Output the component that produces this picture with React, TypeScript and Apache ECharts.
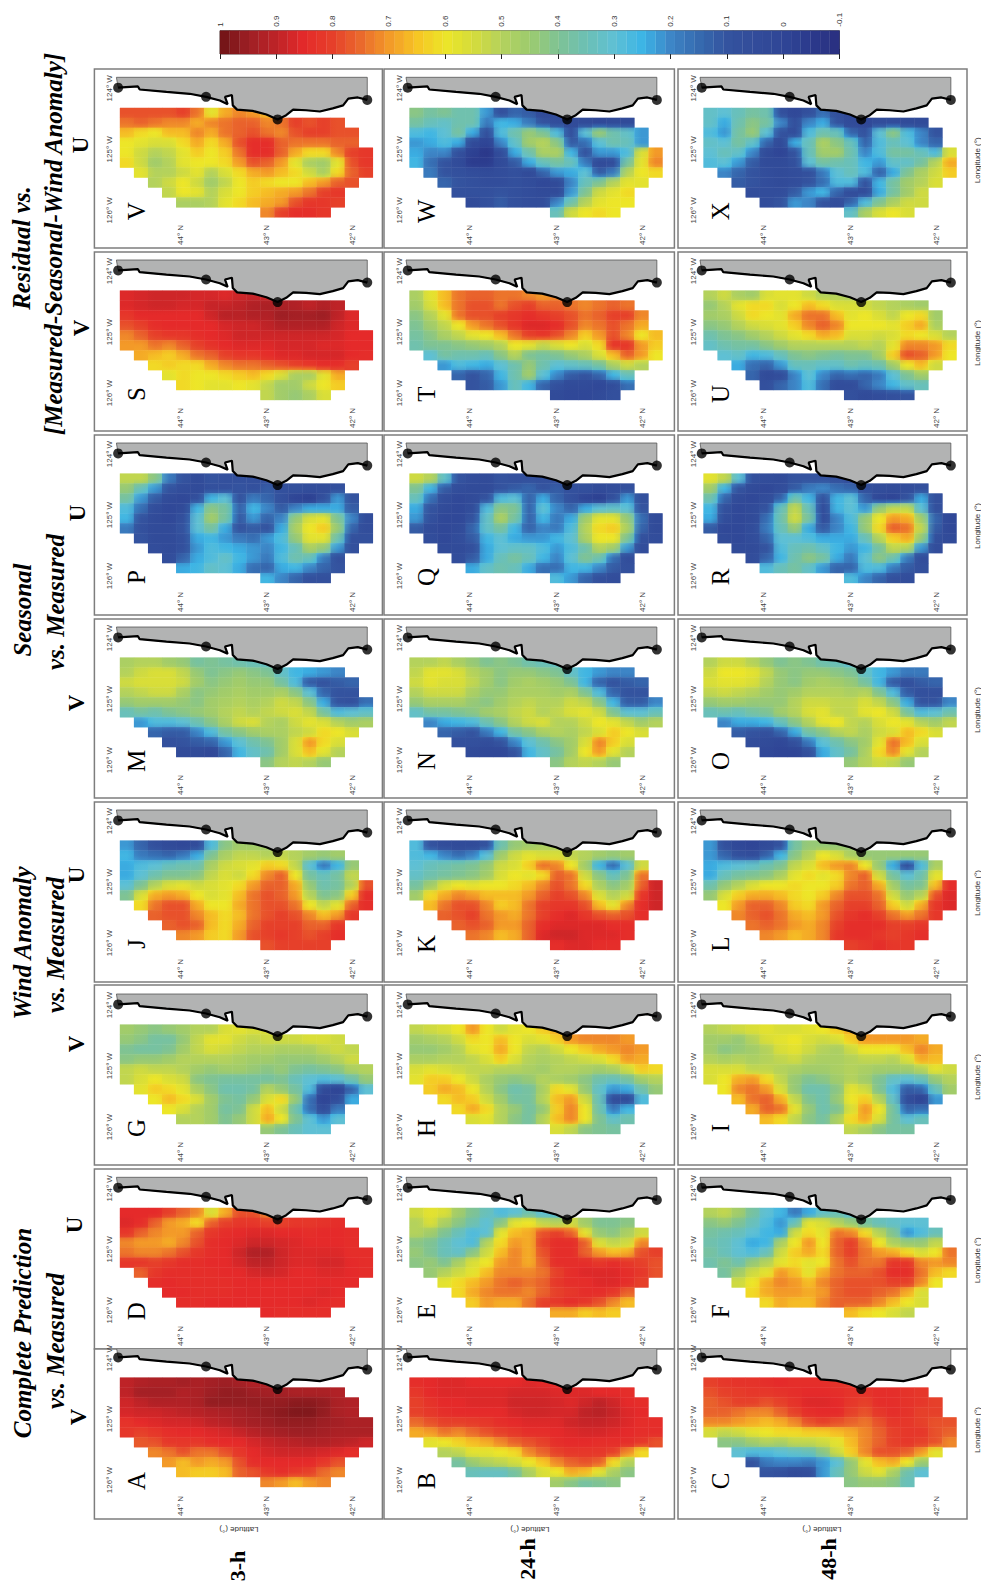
import { useEffect, useRef } from "react";
import * as echarts from "echarts";

// correlation x 100, one row per grid line of longitude (east to west),
// each row running north to south over the cells starting at ROW_FIRST
const ROW_FIRST = [0, 0, 0, 0, 0, 0, 1, 2, 3, 4, 10];
const panelA = [[90,92,93,93,94,93,94,95,94,92,92],[90,94,94,94,92,93,95,96,96,95,94,94,93,93,93,92],[88,90,92,92,92,93,96,96,96,96,96,96,97,97,96,93,92],[87,88,88,89,90,91,92,93,94,95,96,97,98,98,96,93,92],[83,85,86,87,87,88,90,91,93,94,95,96,96,96,95,94,93,93],[82,80,82,84,85,85,86,87,89,91,93,94,95,95,94,93,93,93],[77,78,82,82,82,84,85,85,87,89,90,91,92,92,91,90,88],[72,74,78,74,74,78,82,85,87,88,88,88,87,86,84],[70,66,70,68,70,78,84,85,85,85,85,82,78],[66,64,64,66,76,78,82,84,82,80,75,72],[72,70,66,70,72]];
const panelB = [[84,85,86,86,85,85,85,85,86,85,84],[82,85,86,86,86,86,86,87,87,87,86,86,86,85,85,84],[80,83,85,85,86,86,86,88,88,88,87,86,88,90,88,85,84],[80,82,84,85,85,85,85,87,88,88,87,87,90,91,89,86,85],[75,78,80,80,81,82,84,85,86,86,86,88,89,89,88,86,84,84],[68,70,74,72,75,78,80,82,84,84,85,86,87,87,86,85,84,84],[58,60,63,66,68,72,76,78,80,84,85,85,84,84,84,82,78],[50,52,58,58,60,62,72,76,80,82,82,82,80,72,62],[38,45,50,52,55,60,65,72,76,78,76,62,50],[34,33,33,38,48,56,60,68,66,58,48,42],[46,42,38,40,42]];
const panelC = [[80,82,83,83,84,85,84,84,84,83,82],[78,80,81,82,82,83,84,85,85,84,83,83,84,84,83,82],[76,78,80,80,78,80,83,86,86,85,82,80,84,84,83,82,80],[76,76,74,72,72,76,80,84,85,85,80,78,82,84,83,80,80],[72,72,70,68,66,68,72,78,80,78,76,74,78,82,82,80,78,78],[55,52,54,58,60,62,62,64,64,66,68,72,76,80,82,82,78,76],[42,42,46,50,48,52,52,54,58,66,72,76,80,82,80,78,72],[30,28,28,30,32,34,42,54,64,72,78,78,76,70,58],[10,18,20,20,18,22,30,44,58,66,68,60,45],[10,8,4,6,22,34,44,54,58,48,36,30],[42,44,44,42,34]];
const panelD = [[85,85,85,80,76,72,56,68,78,78,72],[86,84,76,70,68,62,76,80,82,82,80,80,82,82,83,84],[82,76,72,70,70,76,82,84,85,86,86,85,85,84,85,85,84],[72,70,70,68,72,78,84,85,86,88,88,87,86,85,85,85,84],[74,72,72,74,78,82,84,85,88,92,92,88,86,86,86,86,84,84],[82,82,80,82,84,84,85,85,87,90,90,88,86,86,87,87,85,84],[76,82,84,84,84,84,85,85,87,88,87,85,85,86,86,85,84],[84,85,84,84,84,84,85,85,85,85,85,85,85,85,85],[85,85,84,84,84,85,85,85,85,85,85,86,85],[84,84,85,85,85,85,85,85,85,86,85,84],[85,84,84,84,84]];
const panelE = [[54,58,56,46,40,34,28,30,36,30,28],[50,56,48,42,36,30,42,58,60,52,50,54,46,40,40,42],[50,46,40,34,28,30,58,66,68,78,80,76,58,44,42,48,54],[42,40,34,30,28,50,62,70,68,80,84,84,76,56,52,54,72],[44,40,34,32,42,54,66,72,68,78,84,84,76,70,66,68,78,80],[42,44,40,48,56,60,70,72,68,76,84,84,84,82,84,82,80,78],[44,50,54,58,66,72,72,72,74,80,84,86,86,86,84,82,78],[58,62,66,70,74,76,74,76,82,84,84,86,86,84,80],[62,68,72,74,74,72,76,80,82,84,84,82,76],[64,70,68,68,74,80,82,84,82,78,72,66],[68,68,64,66,64]];
const panelF = [[50,52,46,38,30,26,18,24,32,34,30],[42,44,40,34,28,22,34,58,56,50,44,38,34,32,30,30],[38,36,34,30,26,24,54,62,58,74,72,62,50,40,22,28,34],[36,34,30,24,26,48,60,70,60,76,80,72,60,48,44,44,52],[38,34,30,28,34,54,64,68,62,76,80,74,70,68,62,56,60,74],[36,40,36,44,50,58,62,58,60,74,78,74,74,82,82,72,70,72],[38,46,54,58,70,66,58,68,74,76,76,78,84,84,74,66,62],[54,60,68,72,70,66,72,76,78,78,78,80,80,72,60],[62,68,70,70,68,70,76,78,78,76,74,68,56],[62,68,66,66,72,76,76,76,72,66,60,56],[66,62,60,56,52]];
const panelG = [[46,44,42,44,46,50,50,56,58,56,56],[44,42,38,38,44,52,58,58,54,52,54,54,54,56,56,54],[40,38,38,40,46,52,56,54,52,50,50,48,48,48,52,54,52],[42,44,44,46,50,50,50,50,48,46,46,44,44,44,46,50,54],[52,54,52,52,50,46,44,46,46,44,42,44,40,38,40,42,48,50],[52,56,60,56,54,42,40,38,38,38,38,40,34,30,28,30,36,44],[58,64,62,58,48,42,36,36,38,50,44,38,28,4,0,14,30],[60,66,62,56,46,40,38,44,56,62,44,16,0,6,24],[60,56,50,46,38,40,54,66,54,36,16,6,18],[50,50,46,40,44,54,68,60,40,30,22,30],[44,40,34,30,30]];
const panelH = [[52,54,56,60,70,60,54,58,60,64,68],[46,48,50,54,62,60,66,60,56,58,64,70,72,72,72,70],[44,44,46,50,58,60,68,60,52,50,54,60,64,68,70,72,70],[48,48,50,50,52,56,64,56,50,48,50,52,54,56,62,70,68],[56,58,56,54,52,52,50,50,48,46,50,50,48,46,48,54,64,62],[58,64,64,60,54,48,44,42,44,50,48,46,42,36,34,38,46,50],[64,68,66,60,50,42,36,38,48,62,58,44,32,22,24,36,44],[62,66,64,54,46,38,38,50,66,70,54,34,6,4,28],[62,68,62,50,44,38,44,64,72,60,36,18,26],[56,58,50,42,38,50,66,72,60,40,32,36],[56,52,42,40,38]];
const panelI = [[50,52,54,56,58,56,56,58,60,64,68],[46,46,44,50,56,58,60,56,54,56,64,70,70,70,70,68],[46,42,44,46,50,56,58,54,50,48,54,60,60,60,66,72,68],[50,48,50,48,50,52,54,50,48,48,50,52,52,50,56,68,66],[56,56,56,52,52,50,48,46,46,48,50,48,46,46,46,50,58,54],[56,60,68,70,62,52,44,40,42,46,50,46,40,32,30,34,44,50],[60,72,74,70,56,44,36,36,42,58,54,40,28,12,14,34,46],[66,74,76,68,52,40,36,44,60,64,50,32,6,0,22],[68,76,74,58,44,36,40,56,70,60,38,14,16],[66,62,52,42,38,48,62,68,56,38,30,34],[52,48,42,38,38]];
const panelJ = [[22,14,8,4,2,6,28,42,46,46,46],[26,18,16,14,18,24,40,48,52,52,50,52,50,46,44,46],[24,28,30,34,36,36,48,54,56,58,64,62,52,30,18,26,44],[24,30,36,40,40,42,52,56,54,62,72,76,60,38,34,38,52],[30,40,50,56,58,54,56,58,62,70,76,76,68,44,36,38,50,78],[40,56,68,70,68,60,56,58,66,74,78,76,70,50,40,42,64,84],[62,74,78,78,68,60,60,68,74,78,78,74,60,52,58,76,84],[76,78,78,72,66,62,66,74,78,80,78,72,66,70,82],[76,78,76,66,62,68,76,80,80,80,76,76,82],[72,70,64,62,70,78,80,82,80,78,80,84],[78,80,80,80,80]];
const panelK = [[28,10,6,4,4,10,36,44,46,48,48],[28,26,20,16,20,30,46,54,58,56,56,52,50,46,44,46],[30,34,36,38,40,44,54,56,64,74,72,60,46,26,16,30,54],[32,36,38,40,42,46,56,60,58,62,76,74,54,42,34,40,74],[38,46,56,60,58,60,60,62,66,72,78,74,62,48,42,46,76,88],[46,62,68,72,70,66,66,66,70,76,80,78,72,56,50,54,82,88],[66,74,78,78,72,64,66,74,80,82,82,78,66,58,72,84,88],[76,78,80,74,70,68,74,80,84,86,82,78,76,78,84],[76,78,76,70,70,76,84,86,86,86,86,84,84],[74,72,66,68,76,86,88,88,86,86,86,84],[84,86,86,84,84]];
const panelL = [[22,8,2,0,4,10,38,44,44,44,44],[22,14,8,6,14,26,42,50,60,56,48,44,44,44,44,44],[24,28,30,32,36,40,52,56,66,70,72,60,44,24,8,28,48],[24,34,38,40,42,48,58,62,58,62,72,76,54,38,30,36,58],[36,44,50,56,60,60,62,60,60,64,74,76,68,46,38,40,66,84],[44,56,64,68,68,66,62,60,64,72,78,78,74,54,44,50,78,86],[60,70,76,76,72,64,62,70,76,80,80,76,64,54,68,82,86],[72,76,78,74,68,66,70,78,82,84,80,74,70,74,82],[74,76,74,70,68,72,80,84,84,84,80,80,82],[72,70,66,68,72,82,84,84,82,80,82,84],[80,82,84,82,82]];
const panelM = [[48,50,50,46,44,38,40,38,36,34,32],[50,54,56,56,52,44,40,42,44,42,40,32,26,24,22,20],[54,56,56,56,54,46,42,44,46,44,44,38,28,12,10,12,14],[50,52,54,54,48,42,44,46,48,46,46,48,42,30,14,10,10],[44,46,46,46,44,42,46,48,50,48,50,54,52,42,24,10,8,16],[34,38,36,40,42,44,46,50,52,50,52,54,56,52,38,28,30,32],[22,28,28,30,36,42,48,54,56,50,48,54,58,56,50,46,48],[14,12,12,20,28,38,42,46,48,48,52,54,62,60,56],[8,10,12,14,22,30,36,40,46,56,70,62,56],[4,4,2,14,26,32,36,46,56,66,58,50],[42,50,52,50,44]];
const panelN = [[50,50,52,48,44,40,42,40,36,34,32],[52,58,58,56,50,46,42,44,44,42,40,32,26,22,20,20],[54,58,56,56,52,46,42,46,48,46,44,40,26,14,10,12,14],[50,54,54,54,48,44,44,48,48,48,46,48,40,28,14,10,10],[44,48,48,48,44,42,46,50,52,50,50,54,52,42,26,12,12,20],[32,38,38,40,42,46,48,52,54,50,52,56,58,54,40,30,30,34],[20,24,26,28,36,42,50,54,56,50,50,54,60,58,52,46,50],[14,12,10,18,26,38,42,48,50,48,52,56,64,60,56],[8,8,6,10,20,30,36,42,46,56,72,64,56],[4,2,2,10,26,32,38,46,60,70,58,50],[42,50,52,50,44]];
const panelO = [[50,54,54,50,44,40,42,40,36,34,30],[54,60,60,58,52,44,42,44,44,42,40,32,26,22,18,18],[56,58,58,56,50,44,42,46,48,46,44,38,26,12,8,12,14],[52,54,52,50,46,44,46,50,50,50,48,50,40,28,12,8,8],[44,46,46,44,44,44,50,54,54,52,52,56,52,42,24,10,10,20],[34,36,34,38,40,46,50,56,58,52,52,58,60,54,38,28,30,36],[20,24,24,26,34,42,50,58,60,52,50,56,60,58,50,46,52],[12,10,8,14,24,38,42,50,52,48,54,56,66,62,56],[6,4,2,8,18,30,36,42,46,58,74,66,56],[2,0,0,8,24,32,38,48,62,72,58,50],[44,50,54,52,44]];
const panelP = [[52,52,42,18,10,4,10,8,8,8,6],[44,34,22,10,6,4,8,8,10,8,12,8,8,6,6,8],[38,22,12,4,2,8,26,30,10,18,14,8,0,-2,8,22,10],[28,16,6,2,4,26,42,38,14,26,20,12,20,24,24,24,12],[26,10,4,2,8,30,46,38,12,22,14,20,44,56,58,40,20,6],[18,8,4,4,10,30,38,24,10,12,10,24,48,60,64,44,14,6],[10,4,4,8,24,26,22,18,16,22,28,44,58,58,36,8,8],[6,4,8,22,28,26,24,22,20,26,34,48,44,22,8],[6,14,24,28,32,26,22,18,28,36,34,18,8],[24,26,32,30,24,16,14,24,26,20,14,10],[26,20,14,8,8]];
const panelQ = [[54,50,32,10,6,4,10,8,8,8,6],[40,26,12,6,4,4,10,12,14,10,12,8,8,4,6,8],[34,16,6,2,4,10,28,30,14,24,14,8,0,-2,8,22,8],[24,10,4,2,6,28,42,40,14,30,20,14,24,30,32,30,10],[22,8,2,2,10,32,48,38,14,26,18,24,46,58,58,44,16,4],[12,4,2,4,14,32,38,26,14,20,18,28,50,62,64,48,14,4],[6,2,6,12,26,30,24,22,22,26,30,48,60,60,40,8,6],[4,4,8,24,30,32,32,28,22,28,36,50,46,22,6],[6,12,24,34,38,34,26,20,30,40,36,16,6],[24,32,36,34,24,16,16,26,26,20,12,8],[28,22,14,8,6]];
const panelR = [[58,52,30,8,6,4,10,10,10,8,6],[46,26,10,4,2,6,12,18,20,16,14,8,6,4,6,8],[36,14,4,2,6,14,36,26,10,26,30,14,2,0,10,24,8],[26,8,2,4,10,34,52,34,6,26,30,22,44,52,52,30,8],[24,6,2,4,16,36,54,38,6,20,28,44,60,70,68,46,14,2],[12,2,2,6,18,34,44,24,12,20,26,44,62,76,74,52,12,2],[4,2,6,14,30,30,28,24,24,24,34,50,64,68,44,8,4],[4,4,10,28,34,36,32,26,22,26,38,52,50,22,6],[6,14,26,36,42,38,24,18,30,42,36,18,6],[28,34,38,32,22,14,14,28,28,18,12,8],[28,20,14,8,6]];
const panelS = [[86,87,88,88,88,87,87,86,88,89,88],[86,87,88,88,87,87,89,89,90,92,93,93,92,90,92,90],[82,85,85,85,85,85,88,91,91,92,92,95,94,94,95,90,86],[78,80,84,85,85,85,85,87,88,88,90,92,92,92,92,88,86],[72,76,80,82,82,84,85,86,88,88,88,88,88,88,88,87,85,85],[70,70,74,72,76,80,83,85,86,86,86,87,87,87,86,86,85,85],[68,66,64,68,74,76,80,82,82,84,86,86,87,87,87,85,84],[62,64,62,62,68,72,74,74,76,78,80,82,84,84,80],[58,62,60,60,62,64,66,62,56,48,48,58,68],[62,60,58,58,60,58,52,46,46,54,60,64],[52,46,44,48,56]];
const panelT = [[48,58,66,74,76,76,74,74,72,70,72],[46,56,66,74,78,78,74,78,80,76,76,74,72,74,76,74],[42,50,58,74,78,78,80,82,84,82,80,78,74,76,80,80,72],[40,46,52,60,70,74,78,82,86,86,84,78,72,74,78,74,68],[38,42,48,52,58,60,66,74,80,82,78,72,64,70,78,72,60,66],[36,40,40,42,44,46,50,60,58,52,56,60,56,62,82,82,70,64],[30,38,36,36,34,42,50,40,38,40,44,48,56,66,76,70,60],[22,28,26,24,30,36,44,36,30,32,34,38,48,54,50],[14,10,14,26,36,46,30,20,12,10,14,26,34],[10,12,22,34,26,14,8,4,4,2,6,16],[4,2,2,4,8]];
const panelU = [[50,54,48,46,56,58,58,54,50,50,48],[44,50,58,62,62,56,60,66,62,56,56,54,52,50,48,46],[46,48,54,62,60,58,68,74,74,66,58,60,56,52,60,62,46],[42,44,50,54,56,58,64,72,76,72,60,60,60,58,64,68,48],[36,40,42,46,50,54,58,62,68,66,56,56,54,56,62,60,56,50],[32,36,38,38,42,46,50,50,50,50,50,52,50,58,72,72,70,62],[30,32,26,28,34,40,42,40,38,40,40,46,64,78,76,70,60],[24,16,14,22,34,34,32,32,36,34,36,46,60,66,54],[14,4,6,20,30,20,14,16,14,18,30,40,46],[8,14,20,28,16,6,6,14,20,26,32,34],[8,4,6,8,10]];
const panelV = [[78,78,78,78,80,74,58,68,72,70,66],[74,76,74,72,72,68,72,74,76,76,72,74,80,78,80,78],[66,62,60,66,66,72,68,74,76,78,74,72,78,80,80,78,78],[60,58,56,56,62,68,62,68,78,84,84,76,74,74,74,76,76],[60,54,50,52,58,64,60,64,74,84,84,76,68,62,62,72,80,82],[62,54,46,50,58,60,60,62,70,78,76,70,58,48,46,58,78,82],[58,50,50,54,58,50,56,62,68,70,66,62,54,48,62,76,80],[50,54,60,54,46,52,60,64,62,60,60,66,70,76,78],[52,60,58,50,56,60,64,66,68,70,74,80,82],[48,48,50,58,62,66,68,70,78,82,82,80],[72,80,84,84,82]];
const panelW = [[42,38,40,36,36,22,8,14,12,4,4],[38,34,32,36,36,18,26,24,18,10,6,4,4,2,4,4],[28,26,30,38,24,8,28,36,44,40,28,8,30,44,36,32,22],[22,24,28,24,4,0,20,32,46,50,42,12,16,30,36,34,22],[24,20,20,8,-2,-6,6,24,36,48,48,26,10,22,22,28,56,70],[26,16,10,4,-4,-4,4,12,24,34,38,34,18,4,6,38,58,72],[18,10,8,6,4,6,8,4,14,22,24,30,12,18,50,60,62],[14,10,8,6,6,8,6,2,4,20,34,40,50,58,58],[8,8,8,10,8,6,4,4,22,40,54,58,62],[4,8,12,8,6,6,20,36,50,58,60,60],[34,54,60,62,60]];
const panelX = [[32,30,34,38,36,8,2,8,16,8,2],[32,24,36,42,38,20,8,20,24,10,4,2,6,6,4,4],[28,22,38,44,30,10,6,28,36,34,14,10,30,42,28,20,10],[32,30,38,32,14,4,24,34,48,42,34,14,28,34,30,20,14],[30,34,32,20,4,0,10,34,46,46,36,20,28,38,38,34,28,56],[28,30,22,12,4,4,8,30,38,36,34,26,22,32,32,38,50,68],[20,14,10,6,4,6,8,18,30,34,28,14,24,40,48,54,64],[12,10,6,4,6,10,16,28,28,10,26,38,46,50,56],[6,6,6,12,22,26,14,6,6,24,38,46,54],[6,10,22,20,10,6,14,28,40,48,54,54],[32,48,56,60,56]];

// coastline, north to south
const COAST_LAT = [44.72, 44.49, 44.47, 44.16, 43.89, 43.7, 43.54, 43.45, 43.48, 43.4, 43.39, 43.34, 43.16, 43.0, 42.87, 42.77, 42.69, 42.54, 42.38, 42.23, 42.11, 42.05, 41.94, 41.83];
const COAST_LON = [-123.99, -123.97, -124.02, -124.06, -124.09, -124.14, -124.2, -124.26, -124.14, -124.11, -124.28, -124.35, -124.37, -124.43, -124.51, -124.44, -124.35, -124.36, -124.38, -124.33, -124.28, -124.17, -124.15, -124.19];
const STATION_LAT = [44.72, 43.7, 42.87, 41.83];
const STATION_LON = [-123.99, -124.14, -124.51, -124.19];
const LAND_EDGE_LON = -123.82;

const LAT_TICKS = [42, 43, 44];
const LON_TICKS = [-126, -125, -124];
const COLORS = ["#2a2f80", "#2b3a8c", "#2f4596", "#324c9a", "#34539f", "#366aaf", "#3d85c6", "#3bb4e6", "#5fc0d4", "#6cc0b4", "#7fc394", "#9dcb6e", "#b4d25c", "#d4dc3c", "#ede628", "#f6c524", "#f39a28", "#ea6a2c", "#e6402a", "#e52a2a", "#be2327", "#9e1f24", "#6e1316"];

const CELL_NORTH = 44.7;
const CELL_EAST = -124.32;
const CELL_STEP = 0.163;
const PX_PER_LAT = 86.2;
const PX_PER_LON = 61;

const BANDS = [
  { top: 69, bottom: 248, land: 77.3, panels: [["V", panelV], ["W", panelW], ["X", panelX]] },
  { top: 252, bottom: 431, land: 260, panels: [["S", panelS], ["T", panelT], ["U", panelU]] },
  { top: 435, bottom: 615, land: 443, panels: [["P", panelP], ["Q", panelQ], ["R", panelR]] },
  { top: 619, bottom: 798, land: 627, panels: [["M", panelM], ["N", panelN], ["O", panelO]] },
  { top: 802, bottom: 982, land: 810, panels: [["J", panelJ], ["K", panelK], ["L", panelL]] },
  { top: 985, bottom: 1165, land: 994, panels: [["G", panelG], ["H", panelH], ["I", panelI]] },
  { top: 1169, bottom: 1349, land: 1177.3, panels: [["D", panelD], ["E", panelE], ["F", panelF]] },
  { top: 1349, bottom: 1519, land: 1347, panels: [["A", panelA], ["B", panelB], ["C", panelC]] },
] as const;
const COLUMNS = [
  { left: 94.4, right: 382.4 },
  { left: 384, right: 674.4 },
  { left: 678, right: 967 },
];

const serif = "Liberation Serif";
const sans = "Liberation Sans";

// value -0.1..1 to the colour bar's ramp
const colorOf = (v: number) => echarts.color.lerp(Math.min(1, Math.max(0, (v + 0.1) / 1.1)), COLORS);

function ramp(x2: number, y2: number, before: number, v: number, after: number) {
  return new echarts.graphic.LinearGradient(0, 0, x2, y2, [
    { offset: 0, color: colorOf((before + v) / 2) },
    { offset: 0.5, color: colorOf(v) },
    { offset: 1, color: colorOf((v + after) / 2) },
  ]);
}

function label(text: string, x: number, y: number, rotation: number, style: object) {
  return {
    type: "text",
    x,
    y,
    rotation,
    silent: true,
    style: { text, align: "center", verticalAlign: "middle", fill: "#000", ...style },
  };
}

function buildOption() {
  const grids: any[] = [];
  const xAxes: any[] = [];
  const yAxes: any[] = [];
  const series: any[] = [];
  const texts: any[] = [];
  const quarter = Math.PI / 2;

  const landPolygon = [[COAST_LAT[0] + 0.02, LAND_EDGE_LON], ...COAST_LAT.map((lat, i) => [lat, COAST_LON[i]]), [COAST_LAT[COAST_LAT.length - 1], LAND_EDGE_LON]];

  BANDS.forEach((band) => {
    band.panels.forEach(([letter, panelRows], c) => {
      const col = COLUMNS[c];
      const idx = grids.length;
      const width = col.right - col.left;
      grids.push({
        left: col.left,
        top: band.top,
        width,
        height: band.bottom - band.top,
        show: true,
        backgroundColor: "#fff",
        borderColor: "#7d7d7d",
        borderWidth: 1.5,
      });
      xAxes.push({
        type: "value",
        gridIndex: idx,
        inverse: true,
        position: "bottom",
        max: 43 + 172 / PX_PER_LAT,
        min: 43 - (width - 172) / PX_PER_LAT,
        axisLine: { show: false },
        axisTick: { show: false },
        splitLine: { show: false },
        axisLabel: {
          customValues: LAT_TICKS,
          inside: true,
          rotate: 90,
          margin: 3,
          fontSize: 8,
          fontFamily: sans,
          color: "#444",
          formatter: (v: number) => `${v}° N`,
        },
      });
      yAxes.push({
        type: "value",
        gridIndex: idx,
        position: "left",
        max: -124 + (band.land + 11 - band.top) / PX_PER_LON,
        min: -124 - (band.bottom - band.land - 11) / PX_PER_LON,
        axisLine: { show: false },
        axisTick: { show: false },
        splitLine: { show: false },
        axisLabel: {
          customValues: LON_TICKS,
          inside: true,
          rotate: 90,
          margin: 11,
          fontSize: 8,
          fontFamily: sans,
          color: "#444",
          formatter: (v: number) => `${Math.abs(v)}° W`,
        },
      });

      const rows = panelRows as readonly (readonly number[])[];
      const valueAt = (i: number, j: number, own: number) => {
        const row = rows[j];
        const v = row ? row[i - ROW_FIRST[j]] : undefined;
        return v === undefined ? own : v / 100;
      };
      const cells: number[][] = [];
      rows.forEach((row, j) => {
        row.forEach((v, k) => {
          const i = ROW_FIRST[j] + k;
          cells.push([CELL_NORTH - i * CELL_STEP, CELL_EAST - j * CELL_STEP, v / 100, i, j]);
        });
      });
      series.push({
        type: "custom",
        xAxisIndex: idx,
        yAxisIndex: idx,
        z: 2,
        clip: true,
        silent: true,
        data: cells,
        encode: { x: 0, y: 1 },
        renderItem: (_: any, api: any) => {
          const a = api.coord([api.value(0), api.value(1)]);
          const b = api.coord([api.value(0) - CELL_STEP, api.value(1) - CELL_STEP]);
          const v = api.value(2);
          const i = api.value(3);
          const j = api.value(4);
          const w = b[0] - a[0];
          const h = b[1] - a[1];
          // a cell's fill runs toward its neighbours so the field reads as continuous
          return {
            type: "group",
            children: [
              {
                type: "rect",
                shape: { x: a[0], y: a[1], width: w + 0.3, height: h + 0.3 },
                style: { fill: ramp(1, 0, valueAt(i - 1, j, v), v, valueAt(i + 1, j, v)) },
              },
              {
                type: "rect",
                shape: { x: a[0], y: a[1], width: w, height: h },
                style: { fill: ramp(0, 1, valueAt(i, j - 1, v), v, valueAt(i, j + 1, v)), opacity: 0.5 },
              },
            ],
          };
        },
      });
      series.push({
        type: "custom",
        xAxisIndex: idx,
        yAxisIndex: idx,
        z: 3,
        clip: true,
        silent: true,
        data: [[landPolygon[0][0], landPolygon[0][1]]],
        encode: { x: 0, y: 1 },
        renderItem: (_: any, api: any) => ({
          type: "polygon",
          shape: { points: landPolygon.map((p) => api.coord(p)) },
          style: { fill: "#b2b3b3", stroke: "#555", lineWidth: 0.8 },
        }),
      });
      series.push({
        type: "line",
        xAxisIndex: idx,
        yAxisIndex: idx,
        z: 4,
        silent: true,
        symbol: "none",
        data: COAST_LAT.map((lat, i) => [lat, COAST_LON[i]]),
        lineStyle: { color: "#000", width: 2.2 },
      });
      series.push({
        type: "scatter",
        xAxisIndex: idx,
        yAxisIndex: idx,
        z: 5,
        silent: true,
        symbolSize: 10,
        data: STATION_LAT.map((lat, i) => [lat, STATION_LON[i]]),
        itemStyle: { color: "#000" },
      });

      texts.push(label(letter, col.left + 42, band.land + 134, quarter, { fontFamily: serif, fontSize: 25 }));
      if (c === 2) {
        texts.push(label("Longitude (°)", 977, band.land + 83, quarter, { fontFamily: sans, fontSize: 8, fill: "#333" }));
      }
    });
  });

  // colour bar
  const barIdx = grids.length;
  grids.push({ left: 220, top: 30.7, width: 619.5, height: 23.3, show: true, borderColor: "#555", borderWidth: 1, backgroundColor: "#fff" });
  const barAxis = {
    type: "value",
    gridIndex: barIdx,
    inverse: true,
    min: -0.1,
    max: 1,
    interval: 0.1,
    axisLine: { show: false },
    splitLine: { show: false },
    axisTick: { show: true, inside: true, length: 5, lineStyle: { color: "#222", width: 1 } },
  };
  const barTopIdx = xAxes.length;
  xAxes.push({
    ...barAxis,
    position: "top",
    axisLabel: { rotate: 90, margin: 4, fontSize: 8, fontFamily: sans, color: "#333", formatter: (v: number) => String(+v.toFixed(1)) },
  });
  xAxes.push({ ...barAxis, position: "bottom", axisLabel: { show: false } });
  yAxes.push({ type: "value", gridIndex: barIdx, min: 0, max: 1, show: false });
  const barStep = 1.1 / 64;
  const barCells = Array.from({ length: 64 }, (_, i) => [-0.1 + i * barStep, 0, -0.1 + (i + 0.5) * barStep]);
  series.push({
    type: "custom",
    xAxisIndex: barTopIdx,
    yAxisIndex: barIdx,
    silent: true,
    z: 1,
    data: barCells,
    encode: { x: 0, y: 1 },
    renderItem: (_: any, api: any) => {
      const a = api.coord([api.value(0), 1]);
      const b = api.coord([api.value(0) + barStep, 0]);
      const fill = colorOf(api.value(2));
      return {
        type: "rect",
        shape: { x: b[0], y: a[1], width: a[0] - b[0], height: b[1] - a[1] },
        style: { fill, stroke: fill, lineWidth: 0.3 },
      };
    },
  });
  series.push({ type: "line", xAxisIndex: barTopIdx + 1, yAxisIndex: barIdx, data: [], silent: true });

  // headers
  const head = { fontFamily: serif, fontSize: 25, fontWeight: "bold", fontStyle: "italic" };
  const cap = { fontFamily: serif, fontSize: 23, fontWeight: "bold" };
  const rowHead = { fontFamily: serif, fontSize: 22, fontWeight: "bold" };
  const small = { fontFamily: sans, fontSize: 8, fill: "#333" };
  texts.push(
    label("Complete Prediction", 22, 1333, quarter, head),
    label("vs. Measured", 55, 1341, quarter, head),
    label("Wind Anomaly", 22, 943, quarter, head),
    label("vs. Measured", 55, 945, quarter, head),
    label("Seasonal", 22, 610, quarter, head),
    label("vs. Measured", 55, 602, quarter, head),
    label("Residual vs.", 21, 248, quarter, head),
    label("[Measured-Seasonal-Wind Anomaly]", 53, 244, quarter, head),
    label("V", 78, 1417, quarter, cap),
    label("U", 74, 1225, quarter, cap),
    label("V", 76, 1044, quarter, cap),
    label("U", 76, 875, quarter, cap),
    label("V", 76, 703, quarter, cap),
    label("U", 77, 513, quarter, cap),
    label("V", 81, 328, quarter, cap),
    label("U", 80, 145, quarter, cap),
    label("3-h", 237, 1566, quarter, rowHead),
    label("24-h", 527, 1559, quarter, rowHead),
    label("48-h", 828, 1559, quarter, rowHead),
    label("Latitude (°)", 239, 1529, Math.PI, small),
    label("Latitude (°)", 530, 1529, Math.PI, small),
    label("Latitude (°)", 822, 1529, Math.PI, small)
  );

  return {
    animation: false,
    backgroundColor: "#fff",
    grid: grids,
    xAxis: xAxes,
    yAxis: yAxes,
    series,
    graphic: texts,
  };
}

export default function App() {
  const chartRef = useRef<HTMLDivElement>(null);

  useEffect(() => {
    if (!chartRef.current) return;
    const chart = echarts.init(chartRef.current, null, { renderer: "svg" });
    chart.setOption(buildOption());
    return () => chart.dispose();
  }, []);

  return <div ref={chartRef} style={{ position: "absolute", left: 0, top: 0, width: 981, height: 1585 }} />;
}
